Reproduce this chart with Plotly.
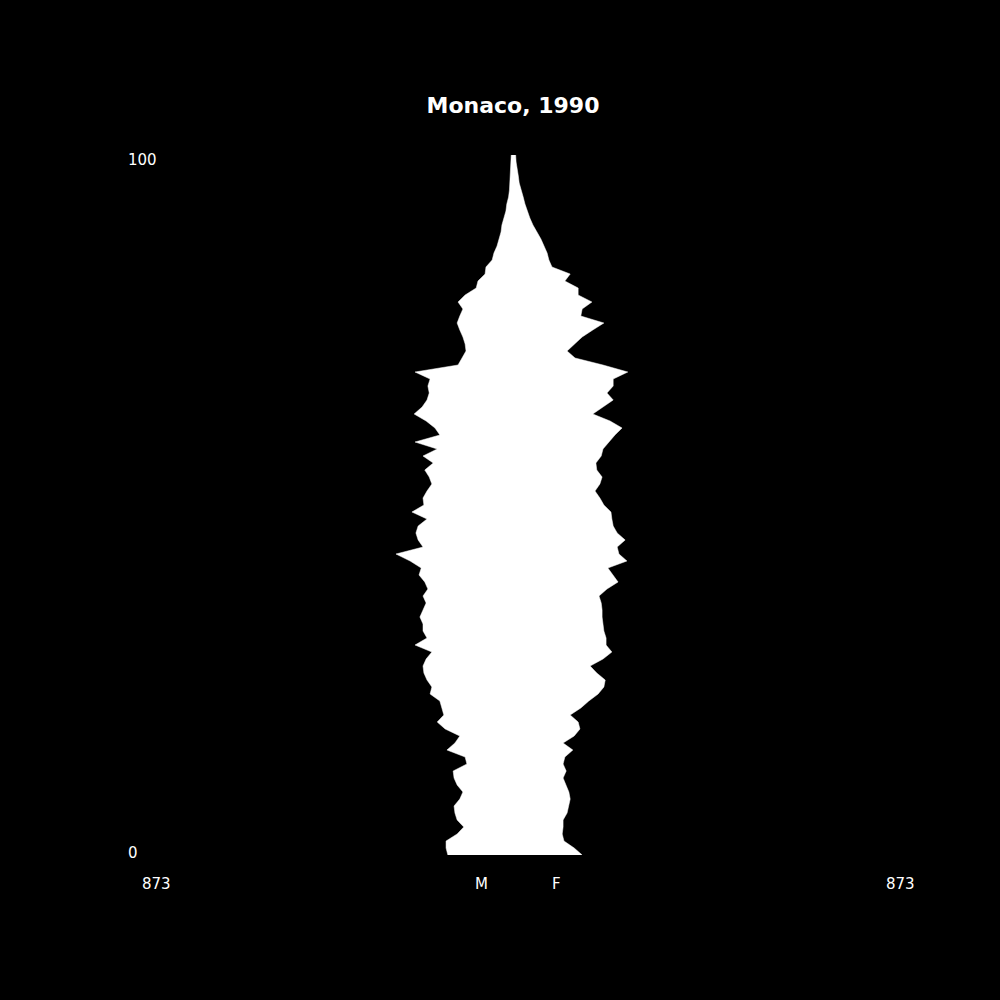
import plotly.graph_objects as go

ages = list(range(0, 101))

male = [147, 151, 151, 126, 111, 126, 131, 133, 120, 113,
        126, 133, 135, 104, 108, 149, 131, 120, 153, 171,
        156, 160, 165, 187, 183, 194, 201, 203, 196, 183,
        221, 194, 203, 203, 210, 203, 196, 203, 192, 199,
        212, 207, 232, 264, 203, 214, 219, 214, 194, 228,
        201, 203, 194, 183, 189, 199, 180, 203, 171, 221,
        165, 176, 196, 223, 205, 194, 189, 192, 187, 221,
        124, 115, 106, 108, 113, 120, 126, 120, 113, 124,
        108, 83, 79, 63, 61, 47, 43, 36, 32, 27,
        25, 20, 16, 14, 10, 8, 7, 6, 5, 5,
        4]

female = [156, 138, 115, 111, 113, 113, 122, 126, 129, 126,
          120, 113, 120, 113, 117, 135, 113, 138, 151, 147,
          129, 153, 171, 192, 205, 208, 189, 174, 203, 223,
          210, 210, 205, 203, 201, 201, 199, 194, 212, 237,
          226, 214, 257, 239, 235, 253, 235, 226, 223, 221,
          205, 196, 185, 196, 201, 189, 187, 199, 203, 216,
          230, 246, 219, 180, 203, 226, 212, 226, 226, 259,
          203, 140, 122, 138, 156, 180, 205, 153, 156, 178,
          147, 147, 117, 129, 88, 81, 77, 70, 63, 54,
          45, 38, 32, 27, 23, 18, 14, 12, 9, 7,
          6]

title_text = "Monaco, 1990"
x_max = 873
y_labels = ["0", "100"]
sex_labels = ["M", "F"]

LINE = dict(color="white", width=0.5, shape="linear")

fig = go.Figure()
fig.add_trace(go.Scatter(
    x=[-v for v in male], y=ages, mode="lines", fill="tozerox",
    line=LINE, fillcolor="white", hoverinfo="skip", showlegend=False))
fig.add_trace(go.Scatter(
    x=female, y=ages, mode="lines", fill="tozerox",
    line=LINE, fillcolor="white", hoverinfo="skip", showlegend=False))

font_family = "DejaVu Sans"
annotations = [
    dict(text=y_labels[1], x=0.126, y=1 - 160 / 1000, xanchor="left", yanchor="middle"),
    dict(text=y_labels[0], x=0.126, y=1 - 853 / 1000, xanchor="left", yanchor="middle"),
    dict(text=str(x_max), x=0.156, y=1 - 884 / 1000, xanchor="center", yanchor="middle"),
    dict(text=str(x_max), x=0.900, y=1 - 884 / 1000, xanchor="center", yanchor="middle"),
    dict(text=sex_labels[0], x=0.481, y=1 - 884 / 1000, xanchor="center", yanchor="middle"),
    dict(text=sex_labels[1], x=0.556, y=1 - 884 / 1000, xanchor="center", yanchor="middle"),
]
for a in annotations:
    a.update(xref="paper", yref="paper", showarrow=False,
             font=dict(family=font_family, size=15, color="white"))

fig.update_layout(
    width=1000, height=1000,
    paper_bgcolor="black", plot_bgcolor="black",
    margin=dict(l=0, r=0, t=0, b=0),
    title=dict(text="<b>" + title_text + "</b>", x=0.513, y=1 - 105 / 1000,
               xanchor="center", yanchor="middle",
               font=dict(family=font_family, size=22, color="white")),
    xaxis=dict(domain=[0.126, 0.900], range=[-x_max, x_max], visible=False,
               showgrid=False, zeroline=False, fixedrange=True),
    yaxis=dict(domain=[0.145, 0.845], range=[0, 100], visible=False,
               showgrid=False, zeroline=False, fixedrange=True),
    annotations=annotations,
    showlegend=False,
)

fig.write_html(
    "out.html",
    config={"displayModeBar": False},
    post_script="document.body.style.margin='0';document.body.style.background='black';",
)
